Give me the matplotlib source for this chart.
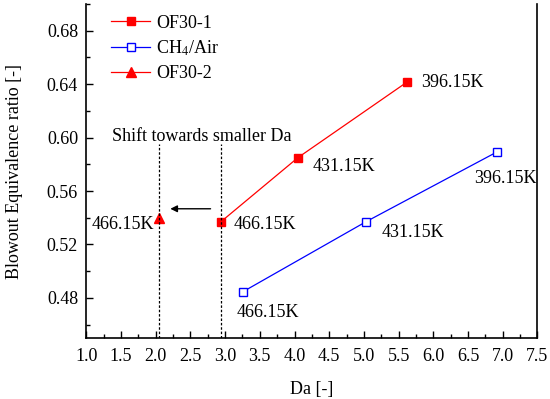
import matplotlib.pyplot as plt
from matplotlib.ticker import MultipleLocator

plt.rcParams['font.family'] = ['Liberation Serif', 'DejaVu Serif']
plt.rcParams['mathtext.fontset'] = 'stix'

# data
da_of1 = [2.94, 4.05, 5.62]
phi_of1 = [0.537, 0.585, 0.6415]
da_ch4 = [3.26, 5.03, 6.92]
phi_ch4 = [0.4847, 0.537, 0.5893]
da_of2 = [2.05]
phi_of2 = [0.5395]
temps = ['466.15K', '431.15K', '396.15K']

fig = plt.figure(figsize=(5.5, 3.99), dpi=100)
ax = fig.add_axes([0.157, 0.153, 0.820, 0.837])

ax.plot(da_of1, phi_of1, color='red', lw=0.9, marker='s', ms=5.2,
        mfc='red', mec='red', label='OF30-1')
ax.plot(da_ch4, phi_ch4, color='blue', lw=0.9, marker='s', ms=5.2,
        mfc='white', mec='blue', label='CH$_4$/Air')
ax.plot(da_of2, phi_of2, color='red', lw=0.9, marker='^', ms=6.5,
        mfc='red', mec='red', linestyle='-', label='OF30-2')

# dashed guides and arrow
for xv in [2.04, 2.94]:
    ax.plot([xv, xv], [0.45, 0.595], color='black', lw=0.9, ls=(0, (2, 1.5)))
ax.annotate('', xy=(2.17, 0.5467), xytext=(2.83, 0.5467),
            arrowprops=dict(arrowstyle='-|>', color='black', lw=1.0,
                            mutation_scale=10))
fs = 13
ax.text(1.37, 0.6005, 'Shift towards smaller Da', fontsize=fs, va='center')

# temperature labels
ax.text(3.12, 0.5353, temps[0], fontsize=fs, va='center')
ax.text(4.256, 0.578, temps[1], fontsize=fs, va='center')
ax.text(5.83, 0.6409, temps[2], fontsize=fs, va='center')
ax.text(3.16, 0.4687, temps[0], fontsize=fs, va='center')
ax.text(5.25, 0.5286, temps[1], fontsize=fs, va='center')
ax.text(6.59, 0.569, temps[2], fontsize=fs, va='center')
ax.text(1.07, 0.5353, temps[0], fontsize=fs, va='center')

ax.set_xlim(1.0, 7.5)
ax.set_ylim(0.45, 0.70)
ax.xaxis.set_minor_locator(MultipleLocator(0.25))
ax.yaxis.set_minor_locator(MultipleLocator(0.02))
ax.set_yticks([0.48, 0.52, 0.56, 0.60, 0.64, 0.68])
ax.set_yticklabels(['0.48', '0.52', '0.56', '0.60', '0.64', '0.68'])
ax.set_xticks([1.0, 1.5, 2.0, 2.5, 3.0, 3.5, 4.0, 4.5, 5.0, 5.5, 6.0, 6.5, 7.0, 7.5])
ax.set_xticklabels(['1.0', '1.5', '2.0', '2.5', '3.0', '3.5', '4.0', '4.5',
                    '5.0', '5.5', '6.0', '6.5', '7.0', '7.5'])
ax.tick_params(which='both', direction='in', labelsize=fs, top=False, right=False)
ax.tick_params(which='major', length=5, width=1)
ax.tick_params(which='minor', length=3, width=1)
ax.tick_params(axis='x', pad=7)
ax.tick_params(axis='y', pad=6)
ax.spines['top'].set_visible(False)
for s in ['left', 'bottom', 'right']:
    ax.spines[s].set_linewidth(1.2)

ax.set_xlabel('Da [-]', fontsize=fs, va='center')
ax.set_ylabel('Blowout Equivalence ratio [-]', fontsize=fs, va='center')
ax.xaxis.set_label_coords(0.499, -0.153)
ax.yaxis.set_label_coords(-0.16, 0.497)

ax.legend(loc='upper left', bbox_to_anchor=(0.038, 0.99), borderaxespad=0,
          frameon=False, fontsize=fs, handlelength=2.2, handletextpad=0.3,
          labelspacing=0.4)

fig.savefig('out.png', dpi=100)
